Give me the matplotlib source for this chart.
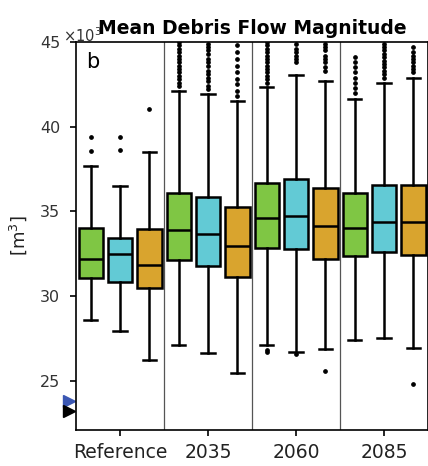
import matplotlib.pyplot as plt

# Periods on the x axis, three runs per period (green, cyan, gold)
PERIODS = ["Reference", "2035", "2060", "2085"]

# Box statistics in units of 10^3 m^3
GREEN_LO = [28.59, 27.13, 27.13, 27.43]
GREEN_Q1 = [31.08, 32.12, 32.85, 32.36]
GREEN_MED = [32.22, 33.89, 34.64, 34.04]
GREEN_Q3 = [34.04, 36.07, 36.66, 36.08]
GREEN_HI = [37.68, 42.08, 42.32, 41.63]
GREEN_FLIERS = [
    [39.42, 38.57],
    [42.4, 42.6, 42.8, 43.0, 43.2, 43.4, 43.6, 43.8, 44.0, 44.2, 44.4, 44.6, 44.8, 45.0],
    [42.6, 42.8, 43.0, 43.2, 43.4, 43.6, 43.8, 44.0, 44.2, 44.4, 44.6, 44.8, 45.0, 26.85, 26.7],
    [42.0, 42.3, 42.6, 42.9, 43.2, 43.5, 43.8, 44.1],
]

CYAN_LO = [27.96, 26.67, 26.73, 27.53]
CYAN_Q1 = [30.86, 31.79, 32.79, 32.63]
CYAN_MED = [32.47, 33.64, 34.72, 34.37]
CYAN_Q3 = [33.44, 35.85, 36.91, 36.58]
CYAN_HI = [36.52, 41.92, 43.07, 42.57]
CYAN_FLIERS = [
    [39.42, 38.6],
    [42.2, 42.4, 42.7, 42.9, 43.1, 43.3, 43.6, 43.8, 44.0, 44.3, 44.5, 44.7, 44.9],
    [43.8, 44.0, 44.2, 44.4, 44.6, 44.9, 26.6],
    [42.9, 43.1, 43.3, 43.5, 43.7, 43.9, 44.1, 44.3, 44.5, 44.7, 44.9],
]

GOLD_LO = [26.22, 25.47, 26.89, 26.93]
GOLD_Q1 = [30.50, 31.11, 32.20, 32.40]
GOLD_MED = [31.85, 32.95, 34.15, 34.39]
GOLD_Q3 = [33.95, 35.26, 36.36, 36.58]
GOLD_HI = [38.51, 41.49, 42.71, 42.87]
GOLD_FLIERS = [
    [41.02],
    [41.8, 42.1, 42.5, 42.8, 43.2, 43.6, 44.0, 44.4, 44.8],
    [43.3, 43.5, 43.8, 44.0, 44.2, 44.5, 44.7, 44.9, 25.59],
    [43.2, 43.4, 43.6, 43.8, 44.0, 44.2, 44.4, 44.7, 24.82],
]

# Reference levels marked on the left edge
MARKER_LEVELS = [23.8, 23.2]
MARKER_COLORS = ["#3b57b3", "black"]

Y_TICKS = [25, 30, 35, 40, 45]


def make_stats(lo, q1, med, q3, hi, fliers):
    return [
        dict(whislo=lo[i], q1=q1[i], med=med[i], q3=q3[i], whishi=hi[i], fliers=fliers[i])
        for i in range(len(lo))
    ]


series = [
    (make_stats(GREEN_LO, GREEN_Q1, GREEN_MED, GREEN_Q3, GREEN_HI, GREEN_FLIERS), "#7fc644", -0.333),
    (make_stats(CYAN_LO, CYAN_Q1, CYAN_MED, CYAN_Q3, CYAN_HI, CYAN_FLIERS), "#62cad5", 0.0),
    (make_stats(GOLD_LO, GOLD_Q1, GOLD_MED, GOLD_Q3, GOLD_HI, GOLD_FLIERS), "#d9a42e", 0.335),
]

fig = plt.figure(figsize=(4.28, 4.66), dpi=100)
ax = fig.add_axes([76 / 428, 36 / 466, 352 / 428, 388 / 466])

lw = 1.8
for stats, color, offset in series:
    pos = [i + offset for i in range(len(PERIODS))]
    ax.bxp(
        stats,
        positions=pos,
        widths=0.275,
        capwidths=0.15,
        patch_artist=True,
        boxprops=dict(facecolor=color, edgecolor="black", linewidth=lw),
        medianprops=dict(color="black", linewidth=lw),
        whiskerprops=dict(color="black", linewidth=lw),
        capprops=dict(color="black", linewidth=lw),
        flierprops=dict(marker="o", markersize=2.4, markerfacecolor="black",
                        markeredgecolor="black", linestyle="none"),
        manage_ticks=False,
    )

# separators between periods
for xv in [0.5, 1.5, 2.5]:
    ax.axvline(xv, color="#555555", linewidth=0.9, zorder=0)

for level, c in zip(MARKER_LEVELS, MARKER_COLORS):
    ax.plot(-0.58, level, marker=">", markersize=9, color=c, clip_on=False,
            linestyle="none")

ax.set_xlim(-0.5, 3.5)
ax.set_ylim(22.1, 45)
ax.set_xticks(range(len(PERIODS)))
ax.set_xticklabels(PERIODS, fontsize=13.5, color="#222222")
ax.set_yticks(Y_TICKS)
ax.set_yticklabels([str(t) for t in Y_TICKS], fontsize=11.5, color="#333333")
ax.tick_params(axis="y", length=4.5, width=1.2, pad=7)
ax.tick_params(axis="x", length=4.5, width=1.2, pad=5)
for sp in ax.spines.values():
    sp.set_linewidth(1.2)

ax.set_ylabel("[m$^3$]", fontsize=13, color="#222222", labelpad=8)
ax.set_title("Mean Debris Flow Magnitude", fontsize=13.5, fontweight="bold", pad=6)
ax.text(0.03, 0.975, "b", transform=ax.transAxes, fontsize=15, va="top", ha="left")
ax.text(-0.038, 1.0, r"$\times10^3$", transform=ax.transAxes, fontsize=10.5,
        va="baseline", ha="left", color="#333333")

fig.savefig("out.png", dpi=100)
